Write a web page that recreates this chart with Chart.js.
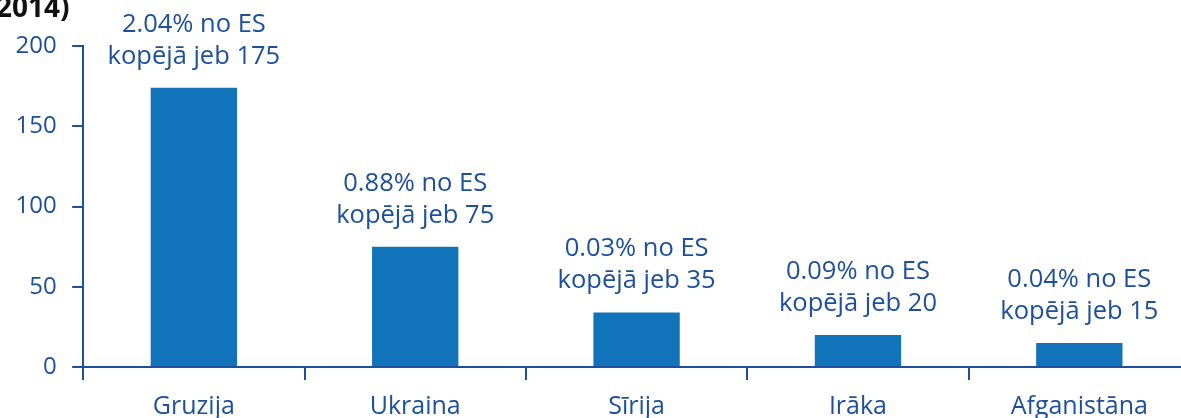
<!DOCTYPE html>
<html>
<head>
<meta charset="utf-8">
<script src="https://cdn.jsdelivr.net/npm/chart.js@4/dist/chart.umd.min.js"></script>
<style>
  html, body { margin: 0; padding: 0; overflow: hidden; background: #fff; }
  #wrap { width: 1190px; height: 434px; }
</style>
</head>
<body>
<div id="wrap"><canvas id="c"></canvas></div>
<script>
// dati
const valstis = ["Gruzija", "Ukraina", "Sīrija", "Irāka", "Afganistāna"];
const skaits = [174, 75, 34, 20, 15];
const daļa = ["2.04%", "0.88%", "0.03%", "0.09%", "0.04%"];
const kopā = [175, 75, 35, 20, 15];
const yTicks = [0, 50, 100, 150, 200];

const zils = "#1173ba";
const tumšs = "#1d4f9c";
const fonts = "'Open Sans', sans-serif";

// uzraksti virs stabiņiem
const uzraksti = {
  id: "uzraksti",
  afterDatasetsDraw(chart) {
    const ctx = chart.ctx;
    const meta = chart.getDatasetMeta(0);
    ctx.save();
    ctx.font = "25.5px " + fonts;
    ctx.fillStyle = tumšs;
    ctx.textAlign = "center";
    ctx.textBaseline = "alphabetic";
    meta.data.forEach((bar, i) => {
      ctx.fillText(daļa[i] + " no ES", bar.x, bar.y - 56);
      ctx.fillText("kopējā jeb " + kopā[i], bar.x, bar.y - 24);
    });
    // nogriezts virsraksts
    ctx.font = "bold 28px " + fonts;
    ctx.fillStyle = "#111";
    ctx.textAlign = "left";
    ctx.fillText("2014)", -4, 17);
    ctx.restore();
  }
};

new Chart(document.getElementById("c"), {
  type: "bar",
  data: {
    labels: valstis,
    datasets: [{
      data: skaits,
      backgroundColor: zils,
      barPercentage: 0.39,
      categoryPercentage: 1.0
    }]
  },
  options: {
    responsive: true,
    maintainAspectRatio: false,
    animation: false,
    layout: { padding: { top: 46, left: 0, right: 0, bottom: 0 } },
    plugins: { legend: { display: false }, tooltip: { enabled: false } },
    scales: {
      x: {
        grid: { drawOnChartArea: false, drawTicks: true, tickLength: 13, color: tumšs, lineWidth: 2, offset: true },
        border: { color: tumšs, width: 2 },
        ticks: { color: tumšs, font: { family: fonts, size: 25 }, padding: 12, maxRotation: 0 }
      },
      y: {
        min: 0,
        max: 200,
        afterBuildTicks(axis) { axis.ticks = yTicks.map(v => ({ value: v })); },
        grid: { drawOnChartArea: false, drawTicks: true, tickLength: 11, color: tumšs, lineWidth: 2 },
        border: { color: tumšs, width: 2 },
        ticks: { color: tumšs, font: { family: fonts, size: 24 }, padding: 15.5 }
      }
    }
  },
  plugins: [uzraksti]
});
</script>
</body>
</html>
